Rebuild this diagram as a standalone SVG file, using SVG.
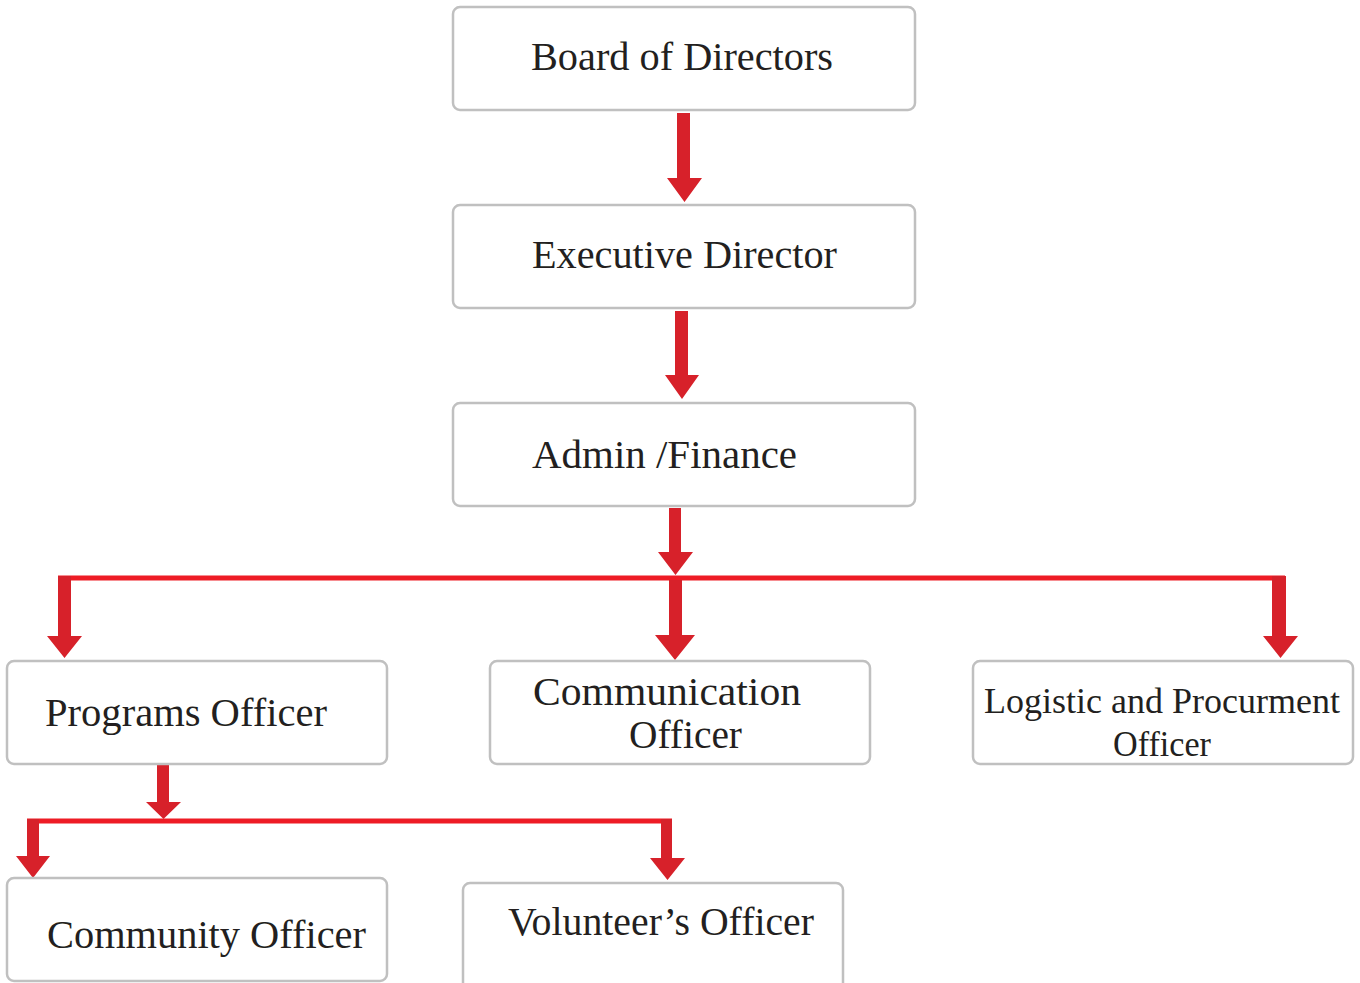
<svg xmlns="http://www.w3.org/2000/svg" width="1360" height="983" viewBox="0 0 1360 983">
<style>
.box{fill:#fff;stroke:#c0c0c0;stroke-width:2.5}
.t{font-family:"Liberation Serif","DejaVu Serif",serif;font-size:39px;fill:#231f20}
.ts{font-family:"Liberation Serif","DejaVu Serif",serif;font-size:36px;fill:#231f20}
.ar{fill:#d7212a}
.ln{stroke:#ee1c25;stroke-width:5;fill:none}
</style>
<rect width="1360" height="983" fill="#fff"/>
<g id="connectors">
<path class="ln" d="M58 578H1285"/>
<path class="ln" d="M27 821H672"/>
<path class="ar" d="M677 113h13v65h12l-17.5 24l-17.5-24h10z"/>
<path class="ar" d="M675 311h13v64h11l-17 24l-17-24h10z"/>
<path class="ar" d="M669 508h12v44h12l-17.5 23l-17.5-23h11z"/>
<path class="ar" d="M669 580h13v55h13l-20 25l-20-25h14z"/>
<path class="ar" d="M58 576h13v60h11l-17.5 22l-17.5-22h11z"/>
<path class="ar" d="M1272 576h14v60h12l-17.5 22l-17.5-22h9z"/>
<path class="ar" d="M157 765h12v37h12l-17.5 17l-17.5-17h11z"/>
<path class="ar" d="M27 819h12v37h11l-17 22l-17-22h11z"/>
<path class="ar" d="M661 819h11v39h13l-17.5 22l-17.5-22h11z"/>
</g>
<g id="board"><rect class="box" x="453" y="7" width="462" height="103" rx="7"/><text class="t" x="531" y="70" textLength="302" lengthAdjust="spacingAndGlyphs">Board of Directors</text></g>
<g id="executive"><rect class="box" x="453" y="205" width="462" height="103" rx="7"/><text class="t" x="532" y="268" textLength="305" lengthAdjust="spacingAndGlyphs">Executive Director</text></g>
<g id="admin"><rect class="box" x="453" y="403" width="462" height="103" rx="7"/><text class="t" x="532" y="468" textLength="265" lengthAdjust="spacingAndGlyphs">Admin /Finance</text></g>
<g id="programs"><rect class="box" x="7" y="661" width="380" height="103" rx="7"/><text class="t" x="45" y="726" textLength="282" lengthAdjust="spacingAndGlyphs">Programs Officer</text></g>
<g id="communication"><rect class="box" x="490" y="661" width="380" height="103" rx="7"/><text class="t" x="533" y="705" textLength="268" lengthAdjust="spacingAndGlyphs">Communication</text><text class="t" x="629" y="748" textLength="113" lengthAdjust="spacingAndGlyphs">Officer</text></g>
<g id="logistic"><rect class="box" x="973" y="661" width="380" height="103" rx="7"/><text class="ts" x="984" y="713" textLength="356" lengthAdjust="spacingAndGlyphs">Logistic and Procurment</text><text class="ts" x="1113" y="756" textLength="98" lengthAdjust="spacingAndGlyphs">Officer</text></g>
<g id="community"><rect class="box" x="7" y="878" width="380" height="103" rx="7"/><text class="t" x="47" y="948" textLength="319" lengthAdjust="spacingAndGlyphs">Community Officer</text></g>
<g id="volunteer"><rect class="box" x="463" y="883" width="380" height="110" rx="7"/><text class="t" x="508" y="935" textLength="306" lengthAdjust="spacingAndGlyphs">Volunteer’s Officer</text></g>
</svg>
